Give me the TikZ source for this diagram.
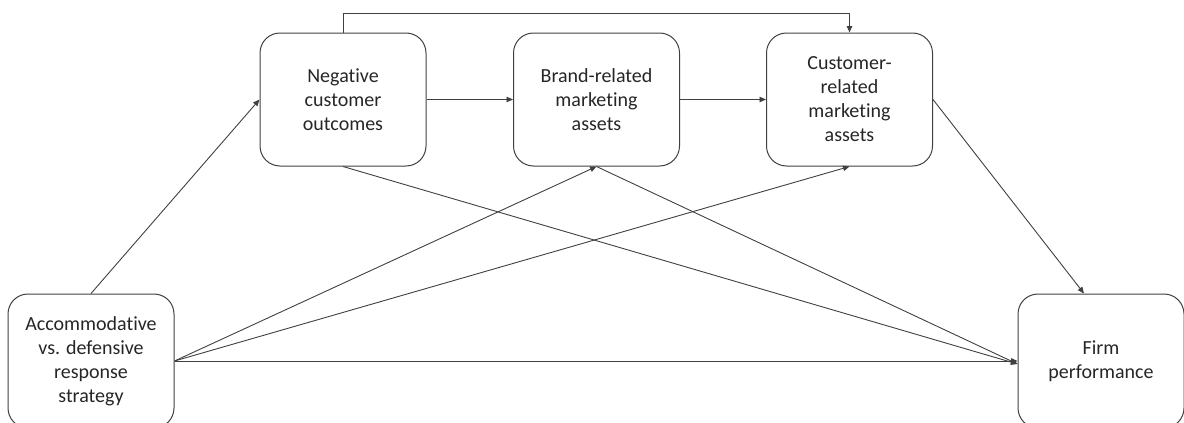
\documentclass[tikz,border=0pt]{standalone}
\usepackage{fontspec}
\setmainfont{Carlito}[Ligatures=NoCommon]
\usetikzlibrary{arrows.meta}
\definecolor{ink}{HTML}{262626}
\definecolor{edge}{HTML}{404040}
\begin{document}
\begin{tikzpicture}[x=1pt,y=-1pt,
  box/.style={draw=edge, line width=1pt, rounded corners=20pt,
    align=center, text=ink, inner sep=2pt,
    font=\fontsize{20}{24}\selectfont},
  topbox/.style={box, minimum width=166pt, minimum height=133pt},
  sidebox/.style={box, minimum width=166pt, minimum height=134pt},
  link/.style={draw=edge, line width=0.9pt, -{Triangle[length=6.5pt,width=5.5pt]}}]
\useasboundingbox (0,0) rectangle (1184,423);
\begin{scope}
\clip (0,0) rectangle (1184,423);
% predictor and outcome boxes (bottom edge runs off the page)
\node[sidebox] (acc)  at (91,361)   {Accommodative\\vs. defensive\\response\\strategy};
\node[sidebox] (firm) at (1101,361) {Firm\\performance};
% mediator boxes
\node[topbox] (neg)   at (343,99.5)   {Negative\\customer\\outcomes};
\node[topbox] (brand) at (596.5,99.5) {Brand-related\\marketing\\assets};
\node[topbox] (cust)  at (849.5,99.5) {Customer-\\related\\marketing\\assets};
\end{scope}
% paths
\coordinate (firmin) at ([yshift=-3pt]firm.west);
\draw[link] (acc.north) -- (neg.west);
\draw[link] (neg.east) -- (brand.west);
\draw[link] (brand.east) -- (cust.west);
\draw[link] (neg.north) |- (343,13) -| (cust.north);
\draw[link] (acc.east) -- (brand.south);
\draw[link] (acc.east) -- (cust.south);
\draw[link] (acc.east) -- (firm.west);
\draw[link] (neg.south) -- (firmin);
\draw[link] (brand.south) -- (firmin);
\draw[link] (cust.east) -- ([xshift=-17pt]firm.north);
\end{tikzpicture}
\end{document}
